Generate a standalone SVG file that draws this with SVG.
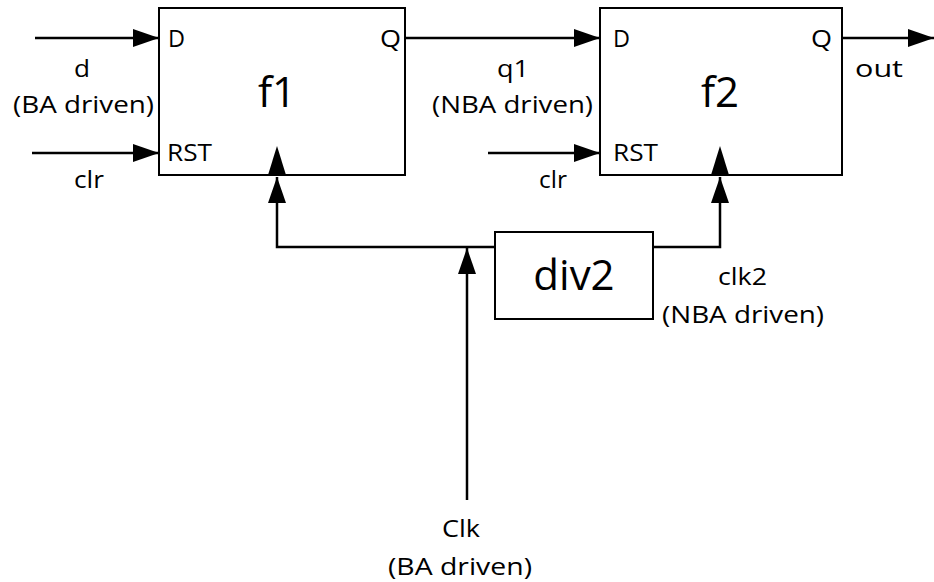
<svg xmlns="http://www.w3.org/2000/svg" width="934" height="582" viewBox="0 0 934 582">
<style>
.box{fill:#fff;stroke:#000;stroke-width:2}
.wire{fill:none;stroke:#000;stroke-width:2.5}
.clk{fill:#000;stroke:none}
text{font-family:"Open Sans","Liberation Sans",sans-serif;font-size:23px;fill:#000}
.big{font-size:42px}
.m{text-anchor:middle}
</style>
<defs>
<marker id="ah" markerUnits="userSpaceOnUse" markerWidth="26" markerHeight="18" refX="26" refY="9" orient="auto" viewBox="0 0 26 18">
<path d="M0,0 L26,9 L0,18 z" fill="#000"/>
</marker>
</defs>
<rect width="934" height="582" fill="#fff"/>
<g id="connectors">
<line class="wire" x1="35" y1="38" x2="159" y2="38" marker-end="url(#ah)"/>
<line class="wire" x1="32" y1="153" x2="159" y2="153" marker-end="url(#ah)"/>
<line class="wire" x1="405" y1="38" x2="600" y2="38" marker-end="url(#ah)"/>
<line class="wire" x1="488" y1="153" x2="600" y2="153" marker-end="url(#ah)"/>
<line class="wire" x1="842" y1="38" x2="934" y2="38" marker-end="url(#ah)"/>
<path class="wire" d="M495 247 H277 V177" marker-end="url(#ah)"/>
<path class="wire" d="M653 247 H720 V177" marker-end="url(#ah)"/>
<path class="wire" d="M467 500 V248" marker-end="url(#ah)"/>
</g>
<g id="f1">
<rect class="box" x="159" y="8" width="246" height="167"/>
<polygon class="clk" points="268,175 286,175 277,146"/>
<text x="168" y="47" textLength="17" lengthAdjust="spacingAndGlyphs">D</text>
<text x="380" y="47" textLength="21" lengthAdjust="spacingAndGlyphs">Q</text>
<text x="167" y="161" textLength="45" lengthAdjust="spacingAndGlyphs">RST</text>
<text class="big m" x="277" y="107">f1</text>
</g>
<g id="f2">
<rect class="box" x="600" y="8" width="242" height="167"/>
<polygon class="clk" points="711,175 729,175 720,146"/>
<text x="613" y="47" textLength="17" lengthAdjust="spacingAndGlyphs">D</text>
<text x="811" y="47" textLength="21" lengthAdjust="spacingAndGlyphs">Q</text>
<text x="613" y="161" textLength="45" lengthAdjust="spacingAndGlyphs">RST</text>
<text class="big m" x="720" y="107">f2</text>
</g>
<g id="div2">
<rect class="box" x="495" y="232" width="158" height="87"/>
<text class="big m" x="574" y="290">div2</text>
</g>
<g id="labels">
<text x="74" y="77" textLength="16" lengthAdjust="spacingAndGlyphs">d</text>
<text x="13" y="113" textLength="141" lengthAdjust="spacingAndGlyphs">(BA driven)</text>
<text x="74" y="188" textLength="30" lengthAdjust="spacingAndGlyphs">clr</text>
<text x="497" y="77" textLength="32" lengthAdjust="spacingAndGlyphs">q1</text>
<text x="432" y="113" textLength="161" lengthAdjust="spacingAndGlyphs">(NBA driven)</text>
<text x="539" y="188" textLength="28" lengthAdjust="spacingAndGlyphs">clr</text>
<text x="855" y="77" textLength="48" lengthAdjust="spacingAndGlyphs">out</text>
<text x="718" y="285" textLength="49" lengthAdjust="spacingAndGlyphs">clk2</text>
<text x="662" y="323" textLength="162" lengthAdjust="spacingAndGlyphs">(NBA driven)</text>
<text x="442" y="537" textLength="38" lengthAdjust="spacingAndGlyphs">Clk</text>
<text x="388" y="575" textLength="144" lengthAdjust="spacingAndGlyphs">(BA driven)</text>
</g>
</svg>
